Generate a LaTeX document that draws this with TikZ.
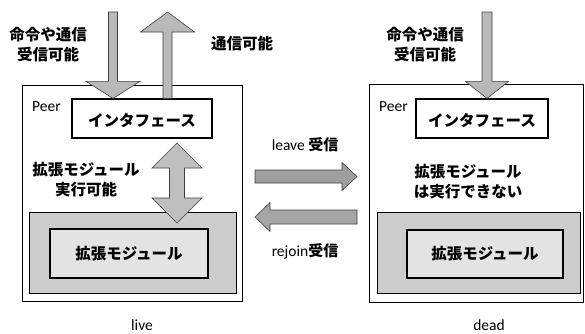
\documentclass[tikz,border=0pt]{standalone}
\usepackage{fontspec}
\setmainfont{Carlito}
\newfontfamily\jp{Noto Sans CJK JP}
\usetikzlibrary{calc}
\tikzset{
  frame/.style={draw=black, line width=1pt, inner sep=0pt},
  ifbox/.style={draw=black, line width=1.2pt, fill=white, inner sep=0pt, minimum height=39pt},
  modouter/.style={draw=black, line width=1pt, fill=gray!40, inner sep=0pt},
  modinner/.style={draw=black, line width=1.4pt, fill=gray!22, inner sep=0pt},
  jtext/.style={font=\jp\bfseries\fontsize{15.5}{20}\selectfont, align=center, inner sep=0pt},
  ltext/.style={font=\fontsize{15.5}{18}\selectfont, inner sep=0pt},
  barrow/.style={draw=black!75, line width=0.6pt, fill=gray!60}
}
% block arrow: start, end, shaft half width, head half width, head length, style
\newcommand\blockarrow[6]{%
  \path coordinate (ba-c) at ($(#2)!#5pt!(#1)$);
  \draw[barrow,#6] ($(#1)!#3pt!90:(#2)$) -- ($(ba-c)!#3pt!90:(#2)$) -- ($(ba-c)!#4pt!90:(#2)$)
     -- (#2) -- ($(ba-c)!#4pt!-90:(#2)$) -- ($(ba-c)!#3pt!-90:(#2)$) -- ($(#1)!#3pt!-90:(#2)$) -- cycle;}
% double block arrow
\newcommand\dblarrow[6]{%
  \path coordinate (da-c) at ($(#2)!#5pt!(#1)$) coordinate (da-d) at ($(#1)!#5pt!(#2)$);
  \draw[barrow,#6] (#1) -- ($(da-d)!#4pt!90:(#2)$) -- ($(da-d)!#3pt!90:(#2)$) -- ($(da-c)!#3pt!90:(#2)$)
     -- ($(da-c)!#4pt!90:(#2)$) -- (#2) -- ($(da-c)!#4pt!-90:(#2)$) -- ($(da-c)!#3pt!-90:(#2)$)
     -- ($(da-d)!#3pt!-90:(#2)$) -- ($(da-d)!#4pt!-90:(#2)$) -- cycle;}
\begin{document}
\begin{tikzpicture}[x=1pt,y=-1pt]
\useasboundingbox[fill=white] (0,0) rectangle (585,333);
% left peer
\node[frame, minimum width=220pt, minimum height=216pt] (boxL) at (132,193) {};
\node[ifbox, minimum width=140pt] (ifL) at (142,118.5) {};
\node[jtext] at (142,121) {インタフェース};
\node[modouter, minimum width=207pt, minimum height=81pt] (moL) at (132.5,252.5) {};
\node[modinner, minimum width=158pt, minimum height=49pt, font=\jp\bfseries\fontsize{15.5}{20}\selectfont] (miL) at (129,253.5) {拡張モジュール};
\node[ltext, anchor=west] (peerL) at (32,107) {Peer};
% right peer
\node[frame, minimum width=214pt, minimum height=218pt] (boxR) at (476,193) {};
\node[ifbox, minimum width=132pt] (ifR) at (482,118.5) {};
\node[jtext] at (482,121) {インタフェース};
\node[modouter, minimum width=203pt, minimum height=81pt] (moR) at (478.5,252.5) {};
\node[modinner, minimum width=156pt, minimum height=48pt, font=\jp\bfseries\fontsize{15.5}{20}\selectfont] (miR) at (485,254) {拡張モジュール};
\node[ltext, anchor=west] (peerR) at (379,107) {Peer};
% labels
\node[jtext] (cmdL) at (48,45) {命令や通信\\受信可能};
\node[jtext] (commL) at (242,44) {通信可能};
\node[jtext] (extL) at (86,180) {拡張モジュール\\実行可能};
\node[jtext] (cmdR) at (425,45) {命令や通信\\受信可能};
\node[jtext] (extR) at (468,182) {拡張モジュール\\は実行できない};
\node[ltext] (leave) at (305,145) {leave {\jp\bfseries\fontsize{15}{16}\selectfont 受信}};
\node[ltext] (rejoin) at (305,251) {rejoin{\jp\bfseries\fontsize{15}{16}\selectfont 受信}};
\node[ltext] (live) at (142,325) {live};
\node[ltext] (dead) at (489,325) {dead};
% arrow end points
\coordinate (a1s) at (113,12);
\coordinate (a1e) at (ifL.north -| a1s);
\coordinate (a2e) at (167.5,12);
\coordinate (a2s) at (ifL.north -| a2e);
\coordinate (a3s) at (177,143);
\coordinate (a3e) at (177,223);
\coordinate (a4s) at (487,12);
\coordinate (a4e) at (ifR.north -| a4s);
\coordinate (a5s) at (255,176.5);
\coordinate (a5e) at (357,176.5);
\coordinate (a6s) at (357,217);
\coordinate (a6e) at (255,217);
\blockarrow{a1s}{a1e}{4.5}{27}{17}{fill=gray!55}
\blockarrow{a2s}{a2e}{4.5}{27}{20}{fill=gray!55}
\dblarrow{a3s}{a3e}{7.5}{25}{25}{fill=gray!50}
\blockarrow{a4s}{a4e}{5}{21.5}{17}{fill=gray!55}
\blockarrow{a5s}{a5e}{6.5}{14}{15}{fill=gray!75}
\blockarrow{a6s}{a6e}{7}{14.5}{15}{fill=gray!70}
\end{tikzpicture}
\end{document}
